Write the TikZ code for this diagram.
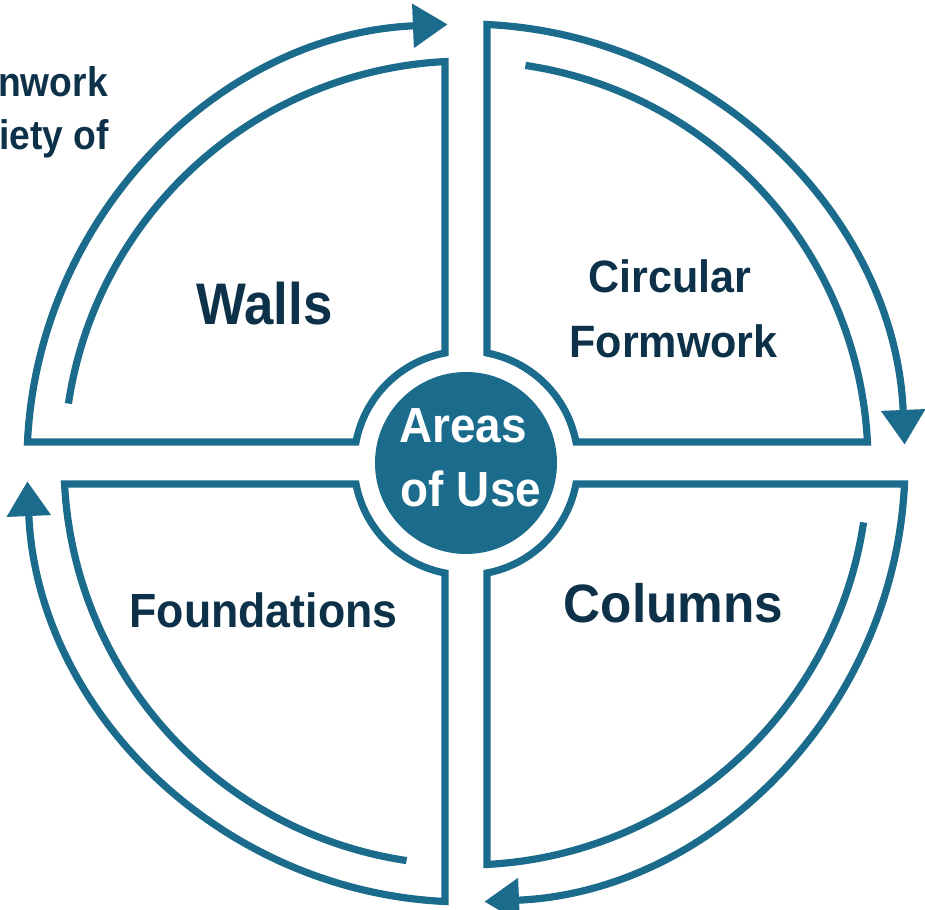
\documentclass[tikz,border=0pt]{standalone}
\usepackage{fontspec}
\setmainfont{Liberation Sans}
\newfontfamily\narrowsans[FakeStretch=0.9]{Liberation Sans}
\newfontfamily\sansA[FakeStretch=0.93]{Liberation Sans}
\newfontfamily\sansB[FakeStretch=0.95]{Liberation Sans}
\usetikzlibrary{arrows.meta}
\definecolor{teal1}{HTML}{1B6B8D}
\definecolor{navy1}{HTML}{0C3149}
\begin{document}
\begin{tikzpicture}[x=0.75pt,y=0.75pt,
  quad/.style={draw=teal1, line width=5.4pt, line join=miter, line cap=butt},
  lbl/.style={text=navy1, anchor=base, inner sep=0pt}]
\useasboundingbox (-466,-447) rectangle (459,463);
\foreach \r in {0,90,180,270}{
  \begin{scope}[rotate=\r]
    \draw[quad, -{Triangle[length=26pt,width=32pt]}]
      (81.5:402) arc[start angle=81.5, end angle=2.99, radius=402]
      -- (110.0,21) arc[start angle=10.81, end angle=79.19, radius=112]
      -- (21,438.5) arc[start angle=87.26, end angle=2.4, radius=439];
  \end{scope}
}
\node[circle, fill=teal1, minimum size=136.5pt, inner sep=0pt] (hub) at (0,0) {};
\node[lbl, text=white, font=\sansA\bfseries\fontsize{37}{40}\selectfont] (areas) at (-3,20) {Areas};
\node[lbl, text=white, font=\sansA\bfseries\fontsize{37}{40}\selectfont] (ofuse) at (5,-44) {of Use};
\node[lbl, font=\narrowsans\bfseries\fontsize{44}{50}\selectfont] (walls) at (-201.5,138) {Walls};
\node[lbl, font=\sansB\bfseries\fontsize{34}{40}\selectfont] (circ) at (204,170) {Circular};
\node[lbl, font=\sansB\bfseries\fontsize{34}{40}\selectfont] (form) at (207.5,105) {Formwork};
\node[lbl, font=\sansA\bfseries\fontsize{36}{40}\selectfont] (found) at (-202.5,-164) {Foundations};
\node[lbl, font=\sansB\bfseries\fontsize{40.5}{45}\selectfont] (cols) at (207.5,-159) {Columns};
\node[lbl, anchor=base east, font=\narrowsans\bfseries\fontsize{31}{34}\selectfont] (cut1) at (-358,366) {nwork};
\node[lbl, anchor=base east, font=\narrowsans\bfseries\fontsize{31}{34}\selectfont] (cut2) at (-357,313) {iety of};
\end{tikzpicture}
\end{document}
